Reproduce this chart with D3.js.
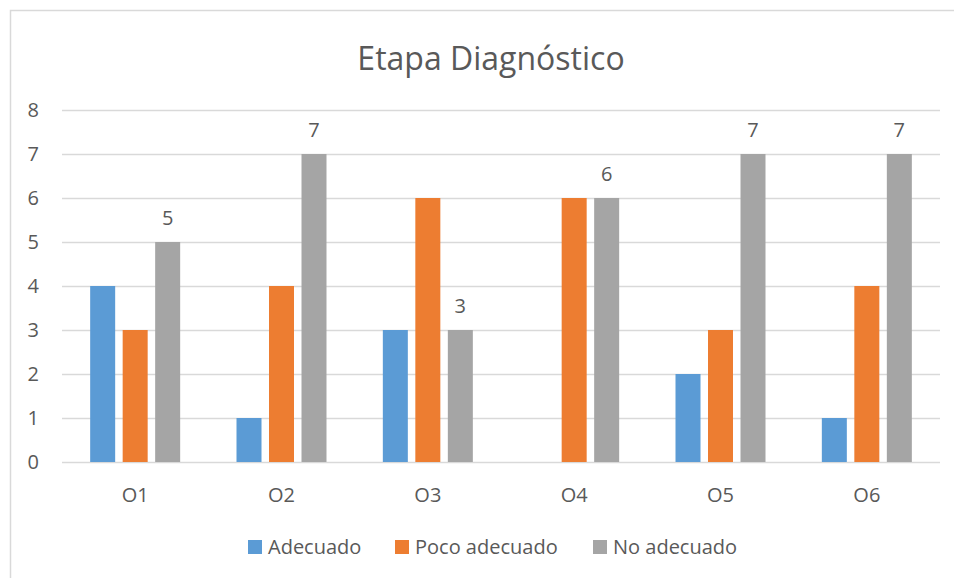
<!DOCTYPE html>
<html>
<head>
<meta charset="utf-8">
<script src="https://cdn.jsdelivr.net/npm/d3@7"></script>
<style>
  body { margin: 0; background: #fff; }
  text { font-family: "Open Sans", "Noto Sans", sans-serif; fill: #595959; }
</style>
</head>
<body>
<div id="chart"></div>
<script>
// chart data
var categories = ["O1", "O2", "O3", "O4", "O5", "O6"];
var seriesNames = ["Adecuado", "Poco adecuado", "No adecuado"];
var adecuado = [4, 1, 3, 0, 2, 1];
var pocoAdecuado = [3, 4, 6, 6, 3, 4];
var noAdecuado = [5, 7, 3, 6, 7, 7];
var yTicks = [0, 1, 2, 3, 4, 5, 6, 7, 8];
var colors = ["#5b9bd5", "#ed7d31", "#a5a5a5"];

var series = [adecuado, pocoAdecuado, noAdecuado];

const width = 954, height = 578;
const plot = {left: 62, right: 940, top: 110, bottom: 462};

var svg = d3.select("#chart").append("svg")
    .attr("width", width)
    .attr("height", height);

// chart frame (only top/left visible in the crop)
svg.append("path")
    .attr("d", "M10.5,578 L10.5,10.5 L954,10.5")
    .attr("fill", "none")
    .attr("stroke", "#d9d9d9")
    .attr("stroke-width", 1.5);

// title
svg.append("text")
    .attr("x", 491)
    .attr("y", 70)
    .attr("text-anchor", "middle")
    .style("font-size", "32px")
    .text("Etapa Diagnóstico");

// scales
var x0 = d3.scaleBand().domain(categories).range([plot.left, plot.right]).paddingInner(0).paddingOuter(0);
var y = d3.scaleLinear().domain([0, 8]).range([plot.bottom, plot.top]);

// gridlines
svg.append("g").selectAll("line")
    .data(yTicks)
    .enter().append("line")
    .attr("x1", plot.left)
    .attr("x2", plot.right)
    .attr("y1", function(d){ return Math.round(y(d)) + 0.5; })
    .attr("y2", function(d){ return Math.round(y(d)) + 0.5; })
    .attr("stroke", "#d9d9d9")
    .attr("stroke-width", 1.3);

// y axis labels
svg.append("g").selectAll("text")
    .data(yTicks)
    .enter().append("text")
    .attr("x", 39)
    .attr("y", function(d){ return y(d) + 7; })
    .attr("text-anchor", "end")
    .style("font-size", "20px")
    .text(function(d){ return d; });

// bars
var barW = 25, step = 32.5;
series.forEach(function(vals, si){
    svg.append("g").selectAll("rect")
        .data(vals)
        .enter().append("rect")
        .attr("x", function(d, i){ return x0(categories[i]) + x0.bandwidth() / 2 + (si - 1) * step - barW / 2; })
        .attr("y", function(d){ return y(d); })
        .attr("width", barW)
        .attr("height", function(d){ return y(0) - y(d); })
        .attr("fill", colors[si]);
});

// data labels on "No adecuado"
svg.append("g").selectAll("text")
    .data(noAdecuado)
    .enter().append("text")
    .attr("x", function(d, i){ return x0(categories[i]) + x0.bandwidth() / 2 + step; })
    .attr("y", function(d){ return y(d) - 17; })
    .attr("text-anchor", "middle")
    .style("font-size", "20px")
    .text(function(d){ return d; });

// category labels
svg.append("g").selectAll("text")
    .data(categories)
    .enter().append("text")
    .attr("x", function(d){ return x0(d) + x0.bandwidth() / 2; })
    .attr("y", 502)
    .attr("text-anchor", "middle")
    .style("font-size", "20px")
    .text(function(d){ return d; });

// legend
var legendX = [248, 395, 593];
var legend = svg.append("g").selectAll("g")
    .data(seriesNames)
    .enter().append("g")
    .attr("transform", function(d, i){ return "translate(" + legendX[i] + ",540)"; });
legend.append("rect")
    .attr("width", 14)
    .attr("height", 14)
    .attr("fill", function(d, i){ return colors[i]; });
legend.append("text")
    .attr("x", 20)
    .attr("y", 14)
    .style("font-size", "20px")
    .text(function(d){ return d; });
</script>
</body>
</html>
